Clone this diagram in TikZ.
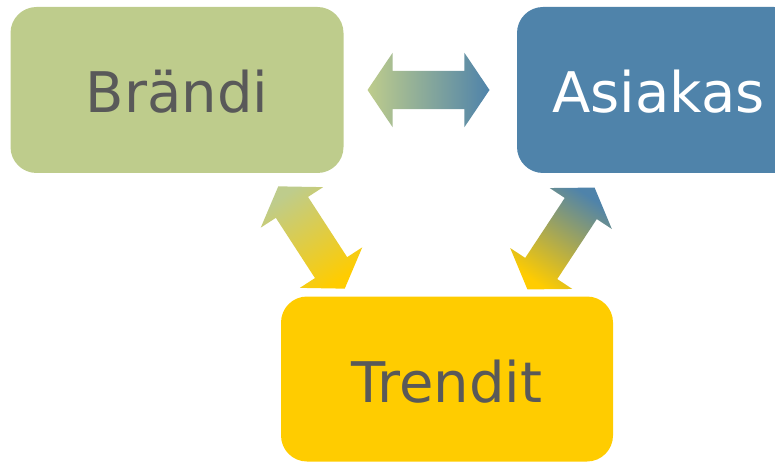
\documentclass[tikz,border=0pt]{standalone}
\usepackage{fontspec}
\setmainfont{DejaVu Sans}
\usetikzlibrary{shapes.arrows}
\definecolor{brandgreen}{RGB}{190,204,140}
\definecolor{custblue}{RGB}{79,131,170}
\definecolor{trendyellow}{RGB}{255,204,0}
\definecolor{textgray}{RGB}{89,89,89}

\tikzset{
  box/.style={rounded corners=26pt, minimum height=166pt, inner sep=0pt,
              font=\fontsize{56}{60}\selectfont, text height=46pt, text depth=0pt},
  fatarrow/.style={double arrow, minimum height=122pt, inner xsep=0pt, inner ysep=19pt,
                   double arrow head extend=18pt, double arrow tip angle=112}
}

\begin{document}
\begin{tikzpicture}[x=1pt, y=-1pt]
  \useasboundingbox (0,0) rectangle (775,462);

  % laatikot
  \node[box, fill=brandgreen, text=textgray, minimum width=333pt] (brandi) at (177,90) {Brändi};
  \node[box, fill=custblue, text=white, minimum width=283pt] (asiakas) at (658.5,90) {Asiakas};
  \node[box, fill=trendyellow, text=textgray, minimum width=332pt, minimum height=165pt] (trendit) at (447,379) {Trendit};

  % nuolet
  \node[fatarrow, left color=brandgreen, right color=custblue] (ba) at (428.5,90) {};
  \node[fatarrow, rotate=-57, top color=brandgreen, bottom color=trendyellow, shading angle=33] (bt) at (311.5,237.5) {};
  \node[fatarrow, rotate=56.6, top color=custblue, bottom color=trendyellow, shading angle=-33.4] (ta) at (561,238.5) {};
\end{tikzpicture}
\end{document}
